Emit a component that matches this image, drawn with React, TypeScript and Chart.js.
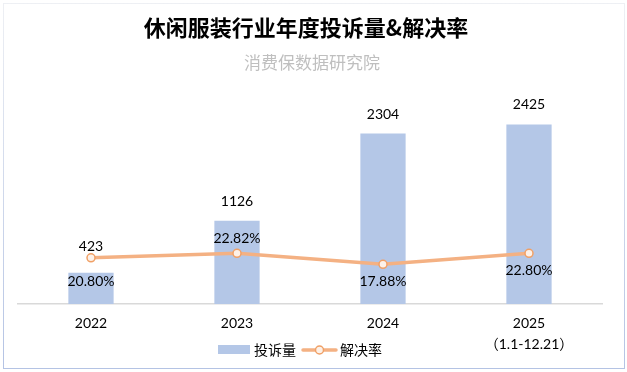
import React, { useEffect, useRef } from "react";
import { Chart, registerables } from "chart.js";

Chart.register(...registerables);

const categories: string[][] = [["2022"], ["2023"], ["2024"], ["2025", "（1.1-12.21）"]];
const complaintCounts: number[] = [423, 1126, 2304, 2425];
const resolutionRates: number[] = [20.8, 22.82, 17.88, 22.8];
const seriesNames: string[] = ["投诉量", "解决率"];
const titleText = "休闲服装行业年度投诉量&解决率";
const subtitleText = "消费保数据研究院";

// label placement (pixels above bar top / below line point)
const barLabelGap: number[] = [26, 19, 19, 20];
const rateLabelOffset: number[] = [24, -15, 17, 17];

const BAR_COLOR = "#B4C7E7";
const LINE_COLOR = "#F4B183";
const POINT_BORDER = "#F0A066";
const POINT_FILL = "#FDF1E8";
const NUM_FONT = "Lato, 'Noto Sans CJK SC', sans-serif";
const CJK_FONT = "'Noto Sans CJK SC', sans-serif";

const overlayPlugin = {
  id: "overlay",
  afterDatasetsDraw(chart: any) {
    const ctx: CanvasRenderingContext2D = chart.ctx;
    ctx.save();
    ctx.textAlign = "center";
    ctx.textBaseline = "middle";
    ctx.fillStyle = "#000";
    ctx.font = `14px ${NUM_FONT}`;
    const barMeta = chart.getDatasetMeta(0);
    barMeta.data.forEach((el: any, i: number) => {
      ctx.fillText(String(complaintCounts[i]), el.x, el.y - barLabelGap[i]);
    });
    const lineMeta = chart.getDatasetMeta(1);
    lineMeta.data.forEach((el: any, i: number) => {
      ctx.fillText(resolutionRates[i].toFixed(2) + "%", el.x, el.y + rateLabelOffset[i]);
    });

    // title & subtitle
    ctx.font = `bold 22px ${CJK_FONT}`;
    ctx.fillStyle = "#000";
    ctx.fillText(titleText, 306, 28);
    ctx.font = `17px ${CJK_FONT}`;
    ctx.fillStyle = "#BFBFBF";
    ctx.fillText(subtitleText, 312, 63);

    // legend
    const ly = 350;
    ctx.fillStyle = BAR_COLOR;
    ctx.fillRect(218, ly - 5, 32, 9);
    ctx.fillStyle = "#000";
    ctx.font = `14px ${CJK_FONT}`;
    ctx.textAlign = "left";
    ctx.fillText(seriesNames[0], 254, ly);
    ctx.strokeStyle = LINE_COLOR;
    ctx.lineWidth = 3.5;
    ctx.lineCap = "round";
    ctx.beginPath();
    ctx.moveTo(303, ly);
    ctx.lineTo(336, ly);
    ctx.stroke();
    ctx.beginPath();
    ctx.arc(319.5, ly, 4, 0, Math.PI * 2);
    ctx.fillStyle = POINT_FILL;
    ctx.fill();
    ctx.lineWidth = 1.5;
    ctx.strokeStyle = POINT_BORDER;
    ctx.stroke();
    ctx.fillStyle = "#000";
    ctx.fillText(seriesNames[1], 340, ly);
    ctx.restore();
  },
};

export default function App() {
  const canvasRef = useRef<HTMLCanvasElement | null>(null);

  useEffect(() => {
    document.body.style.margin = "0";
    const canvas = canvasRef.current;
    if (!canvas) return;
    const chart = new Chart(canvas, {
      type: "bar",
      data: {
        labels: categories,
        datasets: [
          {
            type: "bar",
            label: seriesNames[0],
            data: complaintCounts,
            backgroundColor: BAR_COLOR,
            barPercentage: 0.31,
            categoryPercentage: 1,
            yAxisID: "y",
            order: 2,
          },
          {
            type: "line",
            label: seriesNames[1],
            data: resolutionRates,
            borderColor: LINE_COLOR,
            borderWidth: 3.5,
            pointRadius: 4,
            pointBorderWidth: 1.5,
            pointBackgroundColor: POINT_FILL,
            pointBorderColor: POINT_BORDER,
            tension: 0,
            yAxisID: "y2",
            order: 1,
          } as any,
        ],
      },
      options: {
        responsive: false,
        animation: false,
        layout: { padding: { left: 18, right: 25, top: 82, bottom: 8 } },
        plugins: {
          legend: { display: false },
          title: { display: false },
          tooltip: { enabled: false },
        },
        scales: {
          x: {
            grid: { display: false, drawTicks: false },
            border: { color: "#D9D9D9", width: 1.5 },
            ticks: {
              color: "#000",
              padding: 10,
              font: { family: NUM_FONT, size: 14, lineHeight: 1.43 },
              maxRotation: 0,
              autoSkip: false,
            },
          },
          y: { display: false, min: 0, max: 3000 },
          y2: { display: false, min: 0, max: 100, position: "right" },
        },
      },
      plugins: [overlayPlugin],
    });
    return () => chart.destroy();
  }, []);

  return (
    <div style={{ position: "absolute", left: 0, top: 0, width: 627, height: 372, background: "#fff" }}>
      <canvas ref={canvasRef} width={627} height={372} style={{ position: "absolute", left: 0, top: 0 }} />
      <div
        style={{
          position: "absolute",
          left: 3,
          top: 3,
          width: 622,
          height: 366,
          boxSizing: "border-box",
          border: "1px solid #C8D2E8",
          borderImage: "linear-gradient(to bottom, #EEF0F4, #B4C3E4) 1",
          pointerEvents: "none",
        }}
      />
    </div>
  );
}
